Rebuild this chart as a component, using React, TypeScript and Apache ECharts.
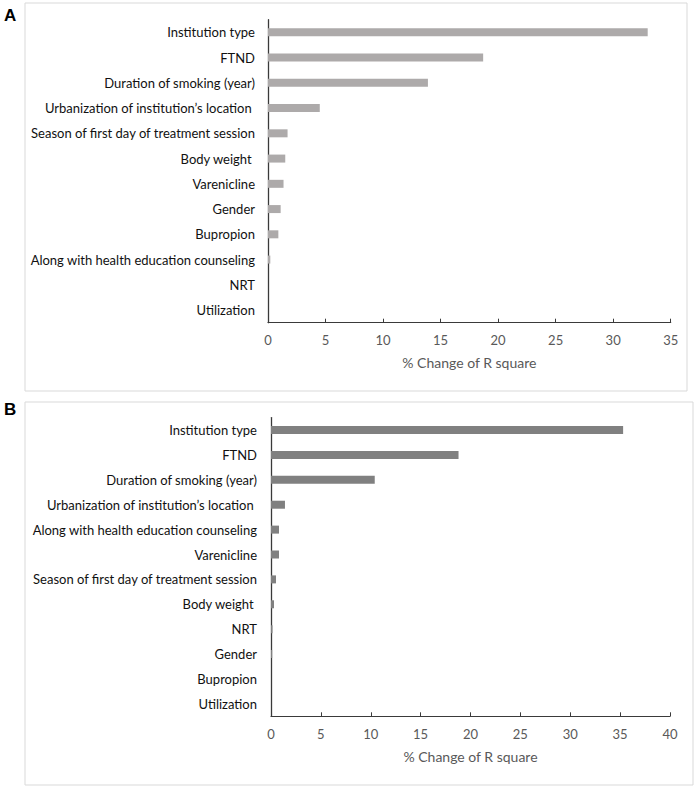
import React, { useEffect, useRef } from "react";
import * as echarts from "echarts";

// Panel A: predictors and their % change of R square
const categoriesA = [
  "Institution type",
  "FTND",
  "Duration of smoking (year)",
  "Urbanization of institution’s location ",
  "Season of first day of treatment session",
  "Body weight ",
  "Varenicline",
  "Gender",
  "Bupropion",
  "Along with health education counseling",
  "NRT",
  "Utilization",
];
const valuesA = [33.0, 18.7, 13.9, 4.5, 1.7, 1.5, 1.35, 1.1, 0.9, 0.2, 0, 0];

// Panel B
const categoriesB = [
  "Institution type",
  "FTND",
  "Duration of smoking (year)",
  "Urbanization of institution’s location ",
  "Along with health education counseling",
  "Varenicline",
  "Season of first day of treatment session",
  "Body weight ",
  "NRT",
  "Gender",
  "Bupropion",
  "Utilization",
];
const valuesB = [35.3, 18.8, 10.4, 1.4, 0.8, 0.8, 0.5, 0.3, 0.15, 0.12, 0, 0];

const axisNameText = "% Change of R square";
const panelLabels = ["A", "B"];

const FONT = "Lato, 'Open Sans', sans-serif";
const AXIS_DARK = "#3a3a3a";

function makeXAxis(gridIndex: number, max: number) {
  return {
    type: "value" as const,
    gridIndex,
    min: 0,
    max,
    interval: 5,
    splitLine: { show: false },
    axisLine: { show: true, lineStyle: { color: AXIS_DARK, width: 1.2 } },
    axisTick: { show: true, inside: true, length: 4, lineStyle: { color: AXIS_DARK } },
    axisLabel: { color: "#595959", fontSize: 13, fontFamily: FONT, margin: 11 },
    name: axisNameText,
    nameLocation: "middle" as const,
    nameGap: 33,
    nameTextStyle: { color: "#595959", fontSize: 14, fontFamily: FONT },
  };
}

function makeYAxis(gridIndex: number, data: string[], margin: number) {
  return {
    type: "category" as const,
    gridIndex,
    data,
    inverse: true,
    axisTick: { show: false },
    axisLine: { show: true, lineStyle: { color: AXIS_DARK, width: 1.3 } },
    axisLabel: {
      color: "#111",
      fontSize: 13,
      fontFamily: FONT,
      margin,
      interval: 0,
    },
  };
}

export default function App() {
  const ref = useRef<HTMLDivElement>(null);

  useEffect(() => {
    if (!ref.current) return;
    const chart = echarts.init(ref.current, undefined, { renderer: "svg" });
    chart.setOption({
      animation: false,
      backgroundColor: "#ffffff",
      graphic: [
        {
          type: "rect",
          shape: { x: 25, y: 3, width: 662, height: 388 },
          style: { fill: "none", stroke: "#d9d9d9", lineWidth: 1 },
          silent: true,
        },
        {
          type: "rect",
          shape: { x: 25, y: 402, width: 668, height: 383 },
          style: { fill: "none", stroke: "#d9d9d9", lineWidth: 1 },
          silent: true,
        },
        {
          type: "text",
          x: 4,
          y: 7,
          style: {
            text: panelLabels[0],
            fontSize: 17,
            fontWeight: "bold",
            fontFamily: "'Liberation Sans', Arial, sans-serif",
            fill: "#000",
          },
        },
        {
          type: "text",
          x: 4,
          y: 401,
          style: {
            text: panelLabels[1],
            fontSize: 17,
            fontWeight: "bold",
            fontFamily: "'Liberation Sans', Arial, sans-serif",
            fill: "#000",
          },
        },
      ],
      grid: [
        { left: 268, top: 19.7, width: 402.7, height: 303 },
        { left: 271, top: 417.6, width: 399, height: 298.7 },
      ],
      xAxis: [makeXAxis(0, 35), makeXAxis(1, 40)],
      yAxis: [makeYAxis(0, categoriesA, 13), makeYAxis(1, categoriesB, 14)],
      series: [
        {
          type: "bar",
          xAxisIndex: 0,
          yAxisIndex: 0,
          data: valuesA,
          barWidth: 8,
          itemStyle: { color: "#adaaaa" },
          silent: true,
        },
        {
          type: "bar",
          xAxisIndex: 1,
          yAxisIndex: 1,
          data: valuesB,
          barWidth: 8,
          itemStyle: { color: "#808080" },
          silent: true,
        },
      ],
    });
    return () => chart.dispose();
  }, []);

  return (
    <div
      ref={ref}
      style={{ position: "absolute", left: 0, top: 0, width: 696, height: 789 }}
    />
  );
}
